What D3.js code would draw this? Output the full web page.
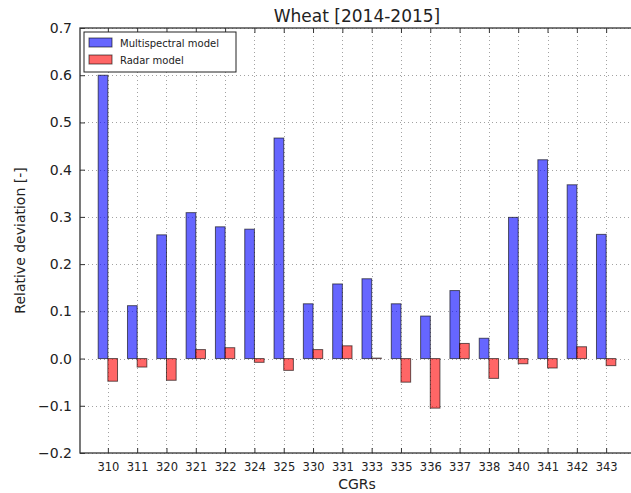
<!DOCTYPE html>
<html>
<head>
<meta charset="utf-8">
<script src="https://cdn.jsdelivr.net/npm/d3@7/dist/d3.min.js"></script>
<style>
  html, body { margin: 0; padding: 0; background: #fff; }
  svg { display: block; font-family: "DejaVu Sans", sans-serif; }
</style>
</head>
<body>
<svg id="chart" width="631" height="493"></svg>
<script>
// CGR codes along the x axis
const categories = ["310","311","320","321","322","324","325","330","331","333","335","336","337","338","340","341","342","343"];
// Relative deviation of each model, per CGR
const multispectral = [0.600,0.112,0.262,0.309,0.279,0.274,0.467,0.116,0.158,0.169,0.116,0.090,0.144,0.043,0.299,0.421,0.368,0.263];
const radar = [-0.048,-0.018,-0.046,0.019,0.023,-0.008,-0.025,0.019,0.027,0.001,-0.050,-0.105,0.032,-0.042,-0.011,-0.020,0.025,-0.015];
const yTicks = [-0.2,-0.1,0.0,0.1,0.2,0.3,0.4,0.5,0.6,0.7];
const seriesNames = ["Multispectral model","Radar model"];
const seriesColors = ["#0000ff","#ff0000"];

const svg = d3.select("#chart");
const plotL = 80, plotR = 634, plotT = 28, plotB = 453;
const barW = 0.33;

const x = d3.scaleLinear().domain([-0.95, categories.length - 0.05]).range([plotL, plotR]);
const y = d3.scaleLinear().domain([-0.2, 0.7]).range([plotB, plotT]);

const plot = svg.append("g");

// dotted grid
const grid = plot.append("g").attr("stroke", "#8a8a8a").attr("stroke-width", 0.8)
  .attr("stroke-dasharray", "1,3");
grid.selectAll("line.gx").data(categories).join("line")
  .attr("x1", (d, i) => Math.round(x(i)) + 0.5).attr("x2", (d, i) => Math.round(x(i)) + 0.5)
  .attr("y1", plotT).attr("y2", plotB);
grid.selectAll("line.gy").data(yTicks).join("line")
  .attr("x1", plotL).attr("x2", plotR)
  .attr("y1", d => Math.round(y(d)) + 0.5).attr("y2", d => Math.round(y(d)) + 0.5);

// bars
const series = [multispectral, radar];
series.forEach((vals, s) => {
  plot.append("g").selectAll("rect").data(vals).join("rect")
    .attr("x", (d, i) => x(s === 0 ? i - barW : i))
    .attr("width", x(barW) - x(0))
    .attr("y", d => y(Math.max(0, d)))
    .attr("height", d => Math.abs(y(d) - y(0)))
    .attr("fill", seriesColors[s]).attr("fill-opacity", 0.6)
    .attr("stroke", "#000").attr("stroke-opacity", 0.6).attr("stroke-width", 1);
});

// axes with inward ticks
const xAxis = d3.axisBottom(x).tickValues(d3.range(categories.length))
  .tickFormat(i => categories[i]).tickSizeInner(-5).tickSizeOuter(0).tickPadding(10);
const gx = svg.append("g").attr("transform", `translate(0,${plotB})`).call(xAxis);
gx.selectAll("text").attr("font-size", 11.5).attr("fill", "#222")
  .attr("font-family", "DejaVu Sans, sans-serif");

const xTop = d3.axisTop(x).tickValues(d3.range(categories.length))
  .tickFormat("").tickSizeInner(-5).tickSizeOuter(0);
svg.append("g").attr("transform", `translate(0,${plotT})`).call(xTop);

const yAxis = d3.axisLeft(y).tickValues(yTicks)
  .tickFormat(d => d3.format(".1f")(d).replace("-", "\u2212"))
  .tickSizeInner(-5).tickSizeOuter(0).tickPadding(8);
const gy = svg.append("g").attr("transform", `translate(${plotL},0)`).call(yAxis);
gy.selectAll("text").attr("font-size", 14).attr("fill", "#222")
  .attr("font-family", "DejaVu Sans, sans-serif");

svg.selectAll(".domain").remove();
svg.selectAll(".tick line").attr("stroke", "#333");

// frame
svg.append("rect").attr("x", plotL).attr("y", plotT)
  .attr("width", plotR - plotL).attr("height", plotB - plotT)
  .attr("fill", "none").attr("stroke", "#333").attr("stroke-width", 1.3);

// title and axis labels
svg.append("text").attr("x", (plotL + plotR) / 2).attr("y", 22)
  .attr("text-anchor", "middle").attr("font-size", 17).attr("fill", "#222")
  .text("Wheat [2014-2015]");
svg.append("text").attr("x", (plotL + plotR) / 2).attr("y", 489)
  .attr("text-anchor", "middle").attr("font-size", 14).attr("fill", "#222")
  .text("CGRs");
svg.append("text").attr("transform", `translate(25,${(plotT + plotB) / 2}) rotate(-90)`)
  .attr("text-anchor", "middle").attr("font-size", 14).attr("fill", "#222")
  .text("Relative deviation [-]");

// legend
const lg = svg.append("g");
lg.append("rect").attr("x", 84).attr("y", 32).attr("width", 152).attr("height", 40)
  .attr("fill", "#fff").attr("stroke", "#222").attr("stroke-width", 1);
seriesNames.forEach((name, s) => {
  lg.append("rect").attr("x", 89).attr("y", 38 + s * 17).attr("width", 23).attr("height", 9)
    .attr("fill", seriesColors[s]).attr("fill-opacity", 0.6)
    .attr("stroke", "#000").attr("stroke-opacity", 0.6);
  lg.append("text").attr("x", 120).attr("y", 47 + s * 17)
    .attr("font-size", 10).attr("fill", "#222").text(name);
});
</script>
</body>
</html>
